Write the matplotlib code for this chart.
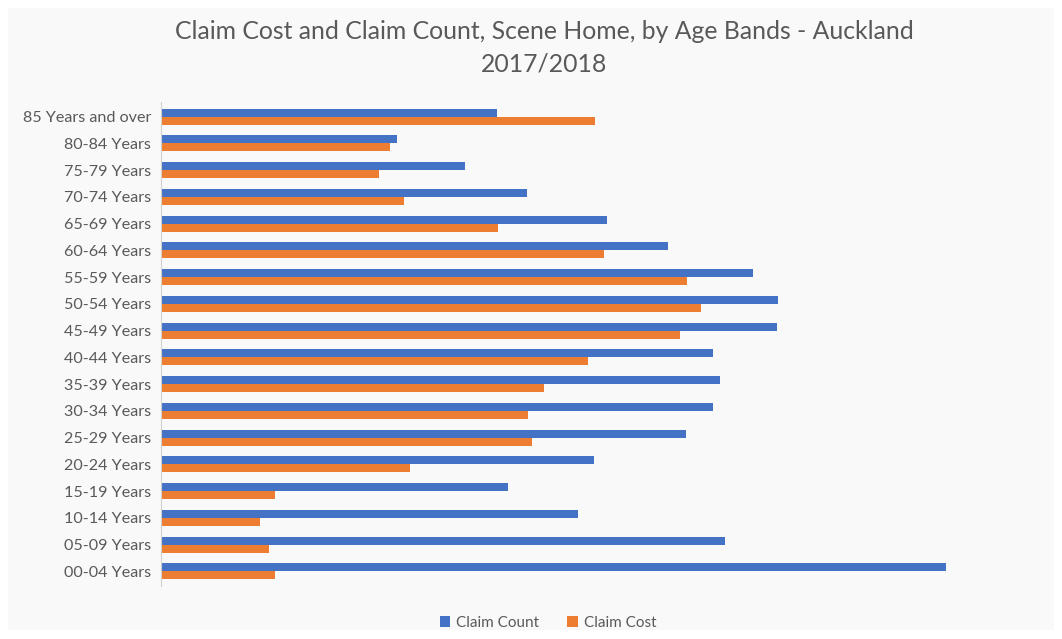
import matplotlib.pyplot as plt
import numpy as np
from matplotlib.patches import Rectangle

plt.rcParams['font.family'] = ['Lato', 'DejaVu Sans']

# categories bottom -> top
bandas = ['00-04 Years', '05-09 Years', '10-14 Years', '15-19 Years', '20-24 Years',
          '25-29 Years', '30-34 Years', '35-39 Years', '40-44 Years', '45-49 Years',
          '50-54 Years', '55-59 Years', '60-64 Years', '65-69 Years', '70-74 Years',
          '75-79 Years', '80-84 Years', '85 Years and over']

# relative values (no axis scale shown)
claim_count = [785, 564, 417, 347, 433, 525, 552, 559, 552, 616,
               617, 592, 507, 446, 366, 304, 236, 336]
claim_cost = [114, 108, 99, 114, 249, 371, 367, 383, 427, 519,
              540, 526, 443, 337, 243, 218, 229, 434]

cinza = '#595959'
fig = plt.figure(figsize=(10.62, 6.39), dpi=100, facecolor='white')
fig.patches.append(Rectangle((8 / 1062, 9 / 639), 1046 / 1062, 622 / 639,
                             transform=fig.transFigure, facecolor='#f9f9f9',
                             edgecolor='none', zorder=-10))

ax = fig.add_axes([161 / 1062, 1 - 586 / 639, (1010 - 161) / 1062, (586 - 102) / 639])
ax.set_facecolor('none')

y = np.arange(len(bandas))
h = 0.3
ax.barh(y + h / 2, claim_count, height=h, color='#4472C4', label='Claim Count')
ax.barh(y - h / 2, claim_cost, height=h, color='#ED7D31', label='Claim Cost')

ax.set_ylim(-0.55, len(bandas) - 0.45)
ax.set_xlim(0, 849)
ax.set_yticks(y)
ax.set_yticklabels(bandas, fontsize=11.6, color=cinza)
ax.tick_params(axis='y', length=0, pad=7)
ax.set_xticks([])
for lado in ['top', 'right', 'bottom']:
    ax.spines[lado].set_visible(False)
ax.spines['left'].set_color('#d0d0d0')

fig.text(544 / 1062, 1 - 47.5 / 639, 'Claim Cost and Claim Count, Scene Home, by Age Bands - Auckland\n2017/2018',
         ha='center', va='center', fontsize=17.8, color=cinza, linespacing=1.5)

fig.legend(loc='center', bbox_to_anchor=(548 / 1062, 1 - 623 / 639), ncol=2, frameon=False,
           fontsize=11, labelcolor=cinza, handlelength=0.7, handleheight=0.7,
           columnspacing=1.8, handletextpad=0.4)

plt.savefig('out.png', dpi=100, facecolor=fig.get_facecolor())
